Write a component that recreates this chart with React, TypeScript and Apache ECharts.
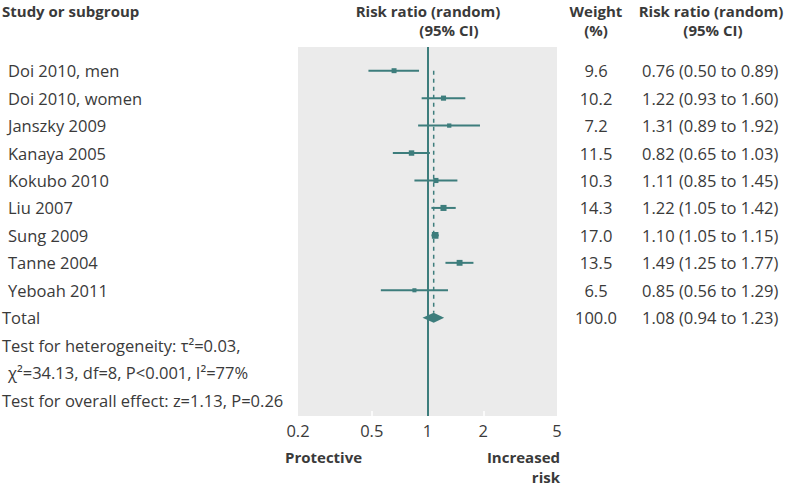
import React, { useEffect, useRef } from "react";
import * as echarts from "echarts";

// ---------- data ----------
const studies = [
  "Doi 2010, men",
  "Doi 2010, women",
  "Janszky 2009",
  "Kanaya 2005",
  "Kokubo 2010",
  "Liu 2007",
  "Sung 2009",
  "Tanne 2004",
  "Yeboah 2011",
];
// plotted point estimates and confidence limits (as drawn in the figure)
const estimates = [0.66, 1.22, 1.31, 0.82, 1.11, 1.22, 1.1, 1.49, 0.85];
const lowers = [0.48, 0.93, 0.89, 0.65, 0.85, 1.05, 1.05, 1.25, 0.56];
const uppers = [0.9, 1.6, 1.92, 1.03, 1.45, 1.42, 1.15, 1.77, 1.29];
const weights = [9.6, 10.2, 7.2, 11.5, 10.3, 14.3, 17.0, 13.5, 6.5];
const weightLabels = ["9.6", "10.2", "7.2", "11.5", "10.3", "14.3", "17.0", "13.5", "6.5"];
const ciLabels = [
  "0.76 (0.50 to 0.89)",
  "1.22 (0.93 to 1.60)",
  "1.31 (0.89 to 1.92)",
  "0.82 (0.65 to 1.03)",
  "1.11 (0.85 to 1.45)",
  "1.22 (1.05 to 1.42)",
  "1.10 (1.05 to 1.15)",
  "1.49 (1.25 to 1.77)",
  "0.85 (0.56 to 1.29)",
];
const totalLabel = "Total";
const totalEstimate = 1.08;
const totalLower = 0.94;
const totalUpper = 1.23;
const totalWeightLabel = "100.0";
const totalCiLabel = "1.08 (0.94 to 1.23)";
const noteLines = [
  "Test for heterogeneity: τ²=0.03,",
  "χ²=34.13, df=8, P<0.001, I²=77%",
  "Test for overall effect: z=1.13, P=0.26",
];
const tickValues = [0.2, 0.5, 1, 2, 5];
const innerTicks = [0.5, 2];
const axisMin = 0.2;
const axisMax = 5;

// ---------- style ----------
const TEAL = "#3d7d7c";
const TEXT = "#3a3a3a";
const FONT = '"Open Sans", "Noto Sans", sans-serif';
const FS = 16.5;
const FSB = 15;

export default function App() {
  const ref = useRef<HTMLDivElement>(null);

  useEffect(() => {
    if (!ref.current) return;
    const chart = echarts.init(ref.current, undefined, { renderer: "svg" });

    const txt = (text: string, x: number, y: number, align: string, bold = false) => ({
      type: "text",
      style: {
        text,
        x,
        y,
        fill: TEXT,
        fontSize: bold ? FSB : FS,
        lineHeight: bold ? 17 : 20,
        fontFamily: FONT,
        fontWeight: bold ? "bold" : "normal",
        align,
        verticalAlign: "middle",
      },
    });

    const studyData = studies.map((_, i) => [
      i,
      Math.log(lowers[i]),
      Math.log(estimates[i]),
      Math.log(uppers[i]),
      weights[i],
    ]);

    const renderStudy = (params: any, api: any) => {
      const i = params.dataIndex;
      const row = api.value(0);
      const pLo = api.coord([api.value(1), row]);
      const pEst = api.coord([api.value(2), row]);
      const pHi = api.coord([api.value(3), row]);
      const s = 1.6 * Math.sqrt(api.value(4));
      const y = pEst[1];
      return {
        type: "group",
        children: [
          {
            type: "line",
            shape: { x1: pLo[0], y1: y, x2: pHi[0], y2: y },
            style: { stroke: TEAL, lineWidth: 2 },
          },
          {
            type: "rect",
            shape: { x: pEst[0] - s / 2, y: y - s / 2, width: s, height: s },
            style: { fill: TEAL },
          },
          txt(studies[i], 8, y, "left"),
          txt(weightLabels[i], 596, y, "center"),
          txt(ciLabels[i], 642, y, "left"),
        ],
      };
    };

    const totalRow = studies.length;
    const renderTotal = (params: any, api: any) => {
      const row = api.value(0);
      const pLo = api.coord([api.value(1), row]);
      const pEst = api.coord([api.value(2), row]);
      const pHi = api.coord([api.value(3), row]);
      const pTop = api.coord([api.value(2), 0]);
      const y = pEst[1];
      const h = 5;
      return {
        type: "group",
        children: [
          {
            type: "line",
            shape: { x1: pTop[0], y1: pTop[1], x2: pEst[0], y2: y - h },
            style: { stroke: TEAL, lineWidth: 1.5, lineDash: [4, 4] },
          },
          {
            type: "polygon",
            shape: {
              points: [
                [pLo[0], y],
                [pEst[0], y - h],
                [pHi[0], y],
                [pEst[0], y + h],
              ],
            },
            style: { fill: TEAL },
          },
          txt(totalLabel, 2, y, "left"),
          txt(totalWeightLabel, 596, y, "center"),
          txt(totalCiLabel, 642, y, "left"),
        ],
      };
    };

    const noteData = noteLines.map((_, k) => [0, totalRow + 1 + k]);
    const renderNote = (params: any, api: any) => {
      const k = params.dataIndex;
      const p = api.coord([0, api.value(1)]);
      return txt(noteLines[k], k === 1 ? 8 : 2, p[1], "left");
    };

    chart.setOption({
      animation: false,
      grid: {
        left: 298,
        top: 47,
        width: 259,
        height: 369,
        show: true,
        backgroundColor: "#ebebeb",
        borderWidth: 0,
        containLabel: false,
      },
      xAxis: {
        type: "value",
        position: "bottom",
        min: Math.log(axisMin),
        max: Math.log(axisMax),
        axisLine: { show: false, onZero: false },
        splitLine: { show: false },
        axisTick: {
          show: true,
          inside: true,
          length: 5,
          lineStyle: { color: "#ffffff", width: 1.5 },
          customValues: innerTicks.map((v) => Math.log(v)),
        },
        axisLabel: {
          show: true,
          customValues: tickValues.map((v) => Math.log(v)),
          formatter: (v: number) => String(parseFloat(Math.exp(v).toPrecision(2))),
          color: TEXT,
          fontSize: FS,
          fontFamily: FONT,
          margin: 6,
        },
      },
      yAxis: {
        type: "value",
        inverse: true,
        min: -0.863,
        max: 12.58,
        show: false,
      },
      series: [
        {
          type: "custom",
          name: "studies",
          renderItem: renderStudy,
          data: studyData,
          clip: false,
          z: 3,
          markLine: {
            silent: true,
            symbol: "none",
            label: { show: false },
            lineStyle: { color: TEAL, width: 2, type: "solid" },
            data: [{ xAxis: 0 }],
          },
        },
        {
          type: "custom",
          name: "total",
          renderItem: renderTotal,
          data: [[totalRow, Math.log(totalLower), Math.log(totalEstimate), Math.log(totalUpper)]],
          clip: false,
          z: 3,
        },
        {
          type: "custom",
          name: "notes",
          renderItem: renderNote,
          data: noteData,
          clip: false,
        },
      ],
      graphic: [
        txt("Study or subgroup", 2, 11, "left", true),
        txt("Risk ratio (random)", 428, 11, "center", true),
        txt("(95% CI)", 449, 30, "center", true),
        txt("Weight", 596, 11, "center", true),
        txt("(%)", 596, 30, "center", true),
        txt("Risk ratio (random)", 711, 11, "center", true),
        txt("(95% CI)", 713, 30, "center", true),
        txt("Protective", 285, 457, "left", true),
        txt("Increased", 560, 457, "right", true),
        txt("risk", 560, 477, "right", true),
      ],
    });

    return () => chart.dispose();
  }, []);

  return (
    <div
      ref={ref}
      style={{ position: "fixed", left: 0, top: 0, width: 787, height: 487, background: "#fff" }}
    />
  );
}
